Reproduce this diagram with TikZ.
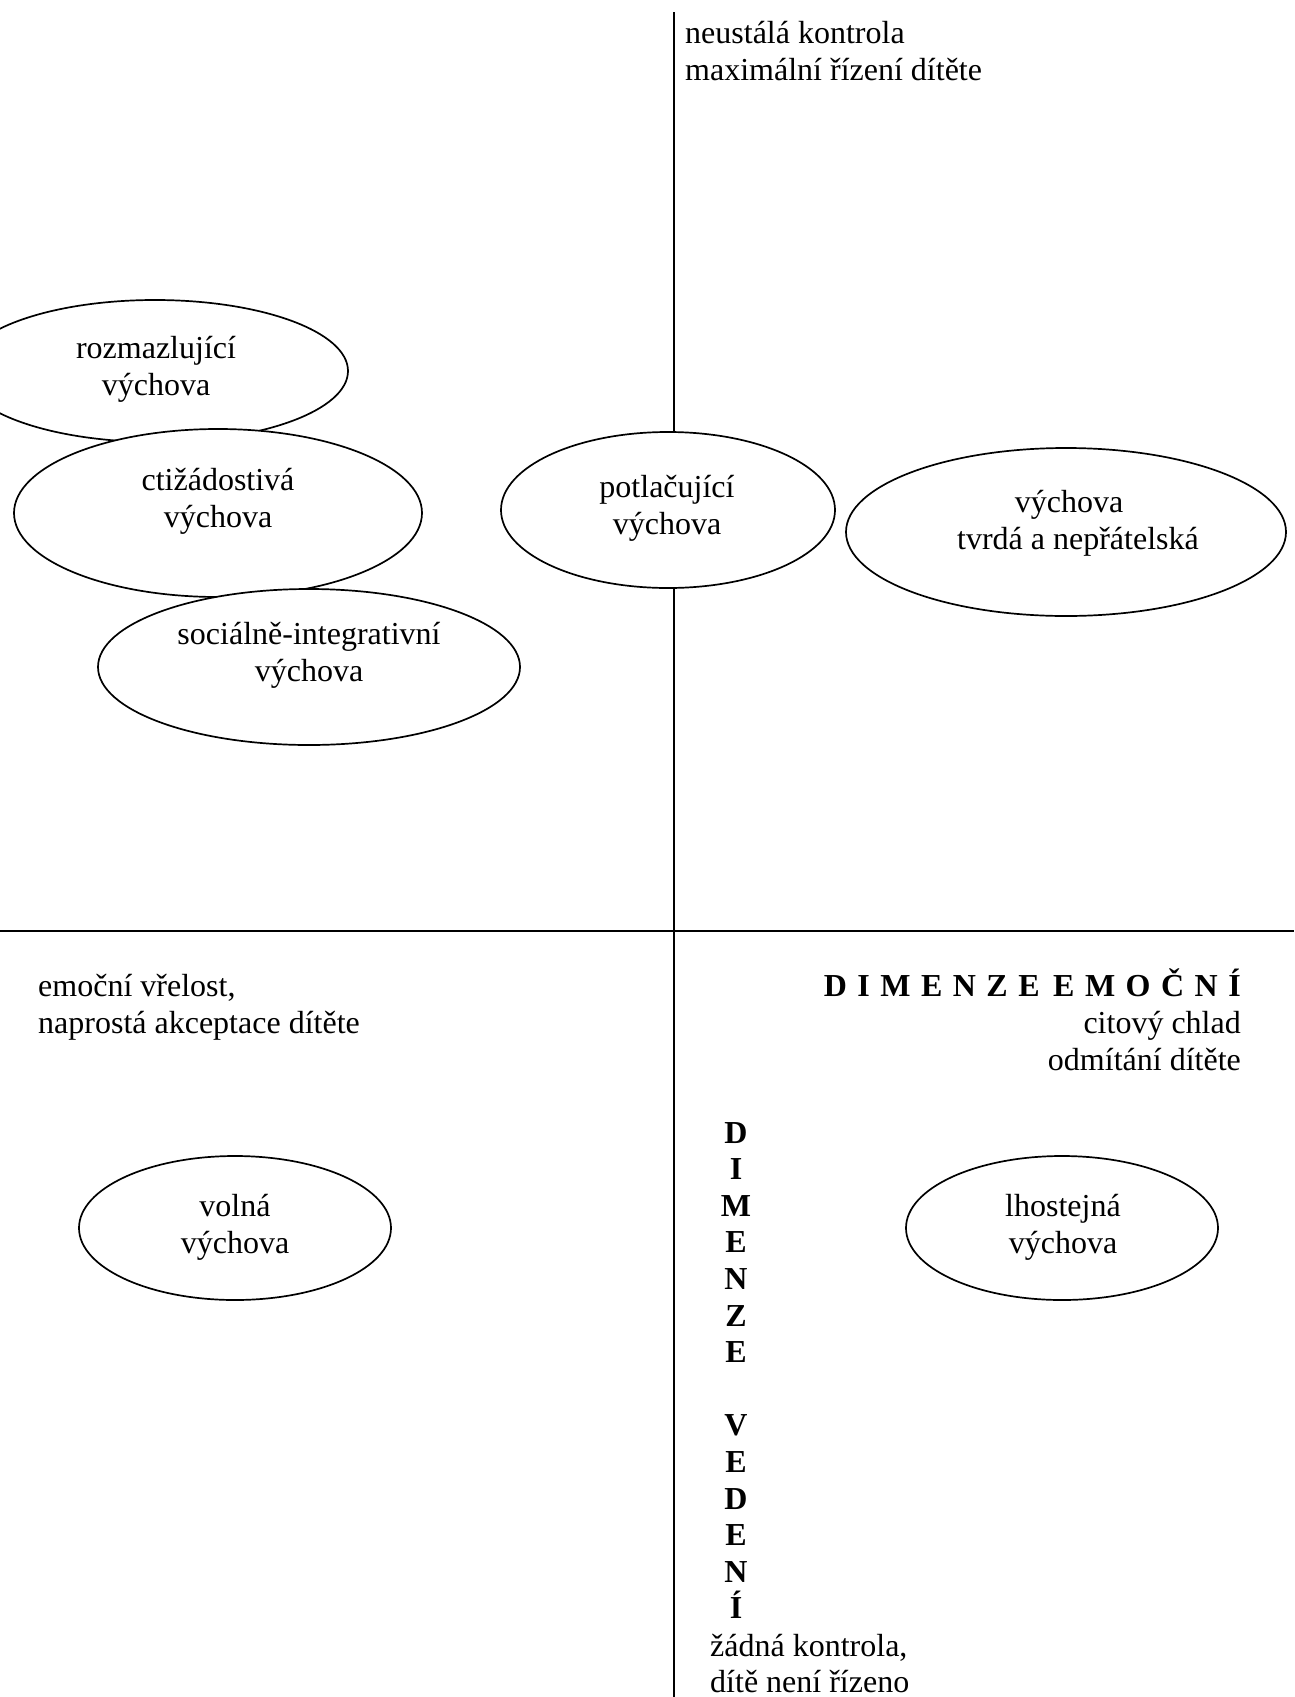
\documentclass[tikz,border=0pt]{standalone}
\usepackage{fontspec}
\setmainfont{Liberation Serif}
\usetikzlibrary{shapes.geometric,positioning}

\tikzset{
  vychova/.style={ellipse, draw, line width=1.7pt, fill=white, inner sep=0pt},
  popisek/.style={align=center, inner sep=0pt},
  radek/.style={inner sep=0pt},
  tucne/.style={font=\fontsize{32}{36.8}\selectfont\bfseries},
  osa/.style={line width=2pt},
}

\begin{document}
\begin{tikzpicture}[x=1pt, y=-1pt, font=\fontsize{32}{36.8}\selectfont]
  \useasboundingbox (0,0) rectangle (1294,1697);
  % osy
  \coordinate (vtop) at (674,12);
  \coordinate (vbot) at (674,1697);
  \coordinate (hleft) at (0,931);
  \coordinate (hright) at (1294,931);
  \draw[osa] (vtop) -- (vbot);
  \draw[osa, line width=2.6pt] (hleft) -- (hright);

  % elipsy
  \node[vychova, minimum width=386pt, minimum height=142pt] (rozmaz) at (155,371) {};
  \node[vychova, minimum width=408pt, minimum height=168pt] (ctizad) at (218,513) {};
  \node[vychova, minimum width=422pt, minimum height=156pt] (socint) at (309,667) {};
  \node[vychova, minimum width=334pt, minimum height=156pt] (potlac) at (668,510) {};
  \node[vychova, minimum width=440pt, minimum height=168pt] (tvrda) at (1066,532) {};
  \node[vychova, minimum width=312pt, minimum height=144pt] (volna) at (235,1228) {};
  \node[vychova, minimum width=312pt, minimum height=144pt] (lhost) at (1062,1228) {};

  \node[popisek] (rozmaz-t) at (156,369) {rozmazlující\\výchova};
  \node[popisek] (ctizad-t) at (218,501) {ctižádostivá\\výchova};
  \node[popisek] (socint-t) at (309,655) {sociálně-integrativní\\výchova};
  \node[popisek] (potlac-t) at (667,508) {potlačující\\výchova};
  \node[popisek] (tvrda-t) at (1069,523) {výchova\\\hspace*{18pt}tvrdá a nepřátelská};
  \node[popisek] (volna-t) at (235,1227) {volná\\výchova};
  \node[popisek] (lhost-t) at (1063,1227) {lhostejná\\výchova};

  % popisky os
  \foreach \y/\txt [count=\i] in {43/neustálá kontrola, 80/maximální řízení dítěte}
    \node[radek, anchor=base west] (nahore\i) at (685,\y) {\txt};
  \foreach \y/\txt [count=\i] in {996/{emoční vřelost,}, 1033/naprostá akceptace dítěte}
    \node[radek, anchor=base west] (vlevo\i) at (38,\y) {\txt};
  \node[radek, tucne, anchor=base east] (emocni) at (1241,996)
    {\spaceskip=10.5pt D I M E N Z E \hspace{3pt}E M O Č N Í};
  \foreach \y/\txt [count=\i] in {1033/citový chlad, 1070/odmítání dítěte}
    \node[radek, anchor=base east] (vpravo\i) at (1241,\y) {\txt};

  % svisla dimenze
  \foreach \k/\ch in {0/D,1/I,2/M,3/E,4/N,5/Z,6/E,8/V,9/E,10/D,11/E,12/N,13/Í}
    \node[radek, tucne, anchor=base] (vedeni\k) at (736,{1143+36.6*\k}) {\ch};
  \foreach \y/\txt [count=\i] in {1656/{žádná kontrola,}, 1692/dítě není řízeno}
    \node[radek, anchor=base west] (dole\i) at (710,\y) {\txt};
\end{tikzpicture}
\end{document}
